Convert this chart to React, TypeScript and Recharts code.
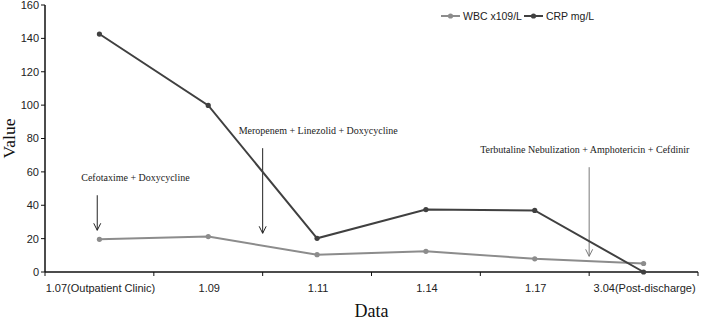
import React from 'react';
import { LineChart, Line, XAxis, YAxis, Legend, ReferenceLine } from 'recharts';

const categories = ['1.07(Outpatient Clinic)', '1.09', '1.11', '1.14', '1.17', '3.04(Post-discharge)'];
const wbcValues = [19.6, 21.2, 10.4, 12.4, 7.9, 5.1];
const crpValues = [142.6, 99.8, 20.2, 37.4, 36.9, 0];
const yTicks = [0, 20, 40, 60, 80, 100, 120, 140, 160];

const annotationTexts = [
  'Cefotaxime + Doxycycline',
  'Meropenem + Linezolid + Doxycycline',
  'Terbutaline Nebulization + Amphotericin + Cefdinir',
];
const annotationX = [0.48, 2, 5];
const annotationTop = [46, 74.2, 62.8];
const annotationTip = [25, 23.2, 9.4];
const annotationColors = ['#222222', '#222222', '#7a7a7a'];
const annotationTextShift = [-16, -24, -109];

const data = categories.map((c, i) => ({
  x: i + 0.5,
  name: c,
  wbc: wbcValues[i],
  crp: crpValues[i],
}));

const xTicks: number[] = [];
for (let i = 0; i <= categories.length; i++) {
  xTicks.push(i);
  if (i < categories.length) xTicks.push(i + 0.5);
}

const WBC_COLOR = '#8c8c8c';
const CRP_COLOR = '#404040';

const XTick = (props: any) => {
  const { x, y, payload } = props;
  const v = payload.value;
  if (Number.isInteger(v)) {
    return <line x1={x} y1={y} x2={x} y2={y + 4} stroke="#111" strokeWidth={1} />;
  }
  const idx = Math.floor(v);
  return (
    <text x={x + 1} y={y + 20} textAnchor="middle" fontFamily="'Liberation Sans', Arial, sans-serif" fontSize={11} fill="#222">
      {categories[idx]}
    </text>
  );
};

const makeArrowShape = (i: number) => (props: any) => {
  const { x1, y1, x2, y2 } = props;
  const topY = Math.min(y1, y2);
  const tipY = Math.max(y1, y2);
  const x = x1;
  const color = annotationColors[i];
  return (
    <g>
      <line x1={x} y1={topY} x2={x} y2={tipY} stroke={color} strokeWidth={1} />
      <polyline points={`${x - 3.5},${tipY - 7} ${x},${tipY} ${x + 3.5},${tipY - 7}`} fill="none" stroke={color} strokeWidth={1} />
      <text x={x + annotationTextShift[i]} y={topY - 14} fontFamily="'Liberation Serif', 'Times New Roman', serif" fontSize={10} fill="#222">
        {annotationTexts[i]}
      </text>
    </g>
  );
};

const LegendContent = () => {
  const items = [
    { label: 'WBC x109/L', color: WBC_COLOR },
    { label: 'CRP mg/L', color: CRP_COLOR },
  ];
  return (
    <div style={{ display: 'flex', alignItems: 'center', fontFamily: "'Liberation Sans', Arial, sans-serif", fontSize: 10.5, color: '#222', lineHeight: '14px', whiteSpace: 'nowrap' }}>
      {items.map((it, k) => (
        <div key={k} style={{ display: 'flex', alignItems: 'center', marginRight: 2 }}>
          <svg width={19} height={10} style={{ display: 'block' }}>
            <line x1={0} y1={5} x2={19} y2={5} stroke={it.color} strokeWidth={2} />
            <circle cx={9.5} cy={5} r={2.6} fill={it.color} />
          </svg>
          <span style={{ marginLeft: 3 }}>{it.label}</span>
        </div>
      ))}
    </div>
  );
};

export default function App() {
  return (
    <div style={{ position: 'absolute', left: 0, top: 0, background: '#fff' }}>
      <LineChart width={701} height={324} data={data} margin={{ top: 5, right: 3, left: 0, bottom: 0 }}>
        <XAxis
          dataKey="x"
          type="number"
          domain={[0, categories.length]}
          ticks={xTicks}
          interval={0}
          tickLine={false}
          tickSize={0}
          tickMargin={0}
          tick={<XTick />}
          height={52}
          axisLine={{ stroke: '#111', strokeWidth: 1.5 }}
          label={{
            content: (p: any) => {
              const vb = p.viewBox;
              return (
                <text x={vb.x + vb.width / 2} y={vb.y + 45} textAnchor="middle" fontFamily="'Liberation Serif', 'Times New Roman', serif" fontSize={18} fill="#111">
                  Data
                </text>
              );
            },
          }}
        />
        <YAxis
          type="number"
          domain={[0, 160]}
          ticks={yTicks}
          interval={0}
          width={45}
          tickSize={4}
          tickMargin={2}
          tickLine={{ stroke: '#111' }}
          axisLine={{ stroke: '#111', strokeWidth: 1.5 }}
          tick={{ fontFamily: "'Liberation Sans', Arial, sans-serif", fontSize: 11, fill: '#222' }}
          label={{
            content: (p: any) => {
              const vb = p.viewBox;
              const cy = vb.y + vb.height / 2;
              return (
                <text x={15} y={cy} transform={`rotate(-90, 15, ${cy})`} textAnchor="middle" fontFamily="'Liberation Serif', 'Times New Roman', serif" fontSize={17.5} fill="#111">
                  Value
                </text>
              );
            },
          }}
        />
        <Legend
          layout="horizontal"
          verticalAlign="middle"
          align="center"
          content={<LegendContent />}
          wrapperStyle={{ position: 'absolute', top: 9, left: 441, width: 220, height: 14 }}
        />
        {annotationTexts.map((t, i) => (
          <ReferenceLine
            key={t}
            segment={[
              { x: annotationX[i], y: annotationTop[i] },
              { x: annotationX[i], y: annotationTip[i] },
            ]}
            shape={makeArrowShape(i)}
            ifOverflow="visible"
          />
        ))}
        <Line
          type="linear"
          dataKey="wbc"
          stroke={WBC_COLOR}
          strokeWidth={2}
          dot={{ r: 2.6, fill: WBC_COLOR, stroke: WBC_COLOR, strokeWidth: 0 }}
          activeDot={false}
          isAnimationActive={false}
        />
        <Line
          type="linear"
          dataKey="crp"
          stroke={CRP_COLOR}
          strokeWidth={2}
          dot={{ r: 2.6, fill: CRP_COLOR, stroke: CRP_COLOR, strokeWidth: 0 }}
          activeDot={false}
          isAnimationActive={false}
        />
      </LineChart>
    </div>
  );
}
